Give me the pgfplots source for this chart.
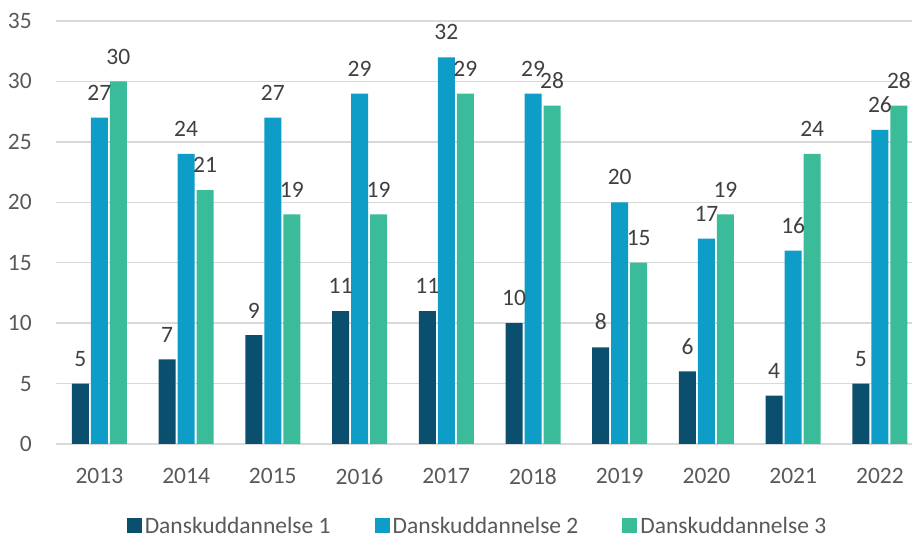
\documentclass[border=0pt]{standalone}
\usepackage{pgfplots}
\pgfplotsset{compat=1.18}
\usepackage{fontspec}
\setmainfont{Carlito}
\definecolor{c1}{HTML}{0A506E}
\definecolor{c2}{HTML}{0E9DC7}
\definecolor{c3}{HTML}{3ABB9A}
\definecolor{gridc}{HTML}{D9D9D9}
\definecolor{tickc}{HTML}{595959}
\definecolor{labc}{HTML}{404040}
\begin{document}
\begin{tikzpicture}
\begin{axis}[
 scale only axis, width=856pt, height=423pt,
 xmin=-0.5, xmax=9.37, ymin=0, ymax=35,
 ytick={0,5,...,35},
 xtick={0,...,9}, xticklabels={2013,2014,2015,2016,2017,2018,2019,2020,2021,2022},
 ybar=2pt, bar width=17pt,
 axis line style={draw=none},
 ymajorgrids, grid style={gridc, line width=1.5pt},
 major tick length=0pt,
 tick label style={font=\fontsize{23.5}{28}\selectfont, text=tickc},
 yticklabel style={inner sep=0pt, xshift=-24pt},
 xticklabel style={inner sep=0pt, yshift=-24pt},
 /pgf/number format/assume math mode=true,
 nodes near coords,
 nodes near coords style={font=\fontsize{23.5}{28}\selectfont, text=labc, inner sep=0pt, anchor=south, yshift=17pt},
 legend style={at={(axis description cs:0.5,0)}, anchor=center, xshift=-6pt, yshift=-82pt, draw=none, fill=none, legend columns=-1, font=\fontsize{23.5}{28}\selectfont, text=tickc, inner sep=0pt, nodes={inner sep=3pt}, /tikz/every even column/.append style={column sep=41pt}},
 legend image code/.code={\fill[#1] (0pt,-7.5pt) rectangle (15pt,7.5pt);},
 clip=false,
 after end axis/.code={\coordinate (bbA) at (rel axis cs:0,0); \coordinate (bbB) at (rel axis cs:1,1);}
]
\addplot[fill=c1, draw=none] coordinates {(0,5) (1,7) (2,9) (3,11) (4,11) (5,10) (6,8) (7,6) (8,4) (9,5)};
\addplot[fill=c2, draw=none] coordinates {(0,27) (1,24) (2,27) (3,29) (4,32) (5,29) (6,20) (7,17) (8,16) (9,26)};
\addplot[fill=c3, draw=none] coordinates {(0,30) (1,21) (2,19) (3,19) (4,29) (5,28) (6,15) (7,19) (8,24) (9,28)};
\legend{Danskuddannelse 1, Danskuddannelse 2, Danskuddannelse 3}
\end{axis}
\pgfresetboundingbox
\path (bbA) ++(-56pt,-93pt) (bbB) ++(0pt,21pt);
\end{tikzpicture}
\end{document}
